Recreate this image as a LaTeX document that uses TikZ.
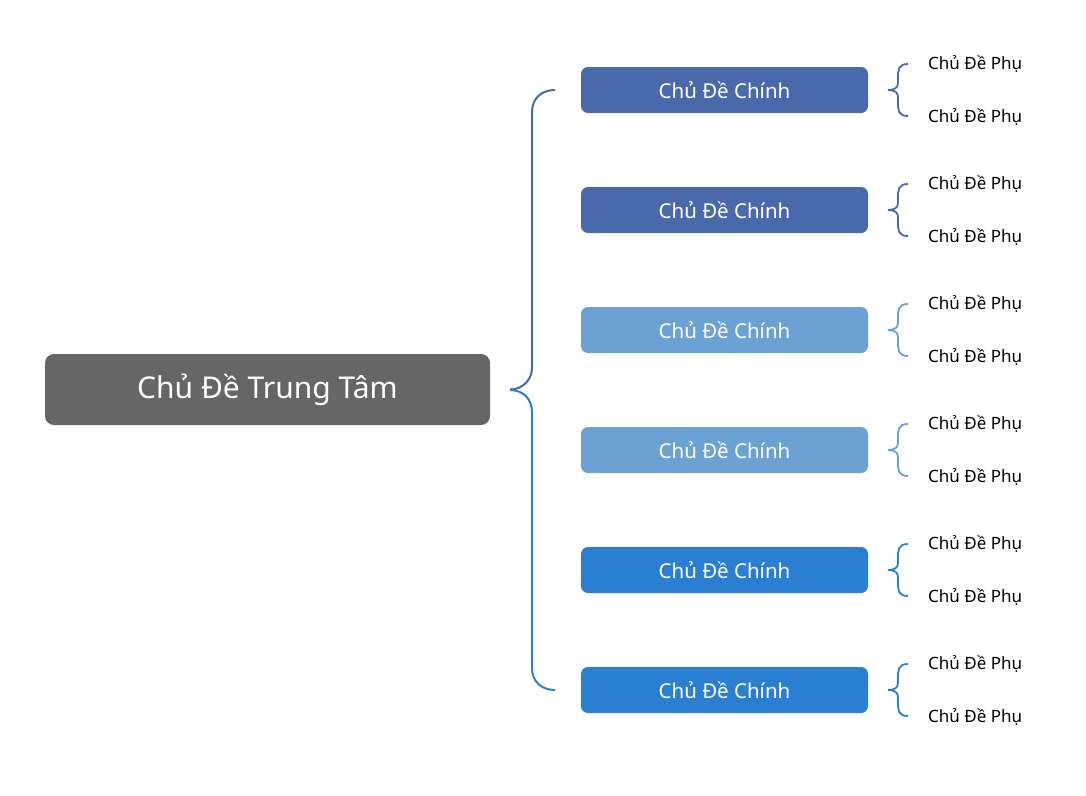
\documentclass[tikz,border=0pt]{standalone}
\usepackage{fontspec}
\setmainfont{Noto Sans}
\definecolor{cgray}{HTML}{666666}
\definecolor{cdark}{HTML}{4A69AA}
\definecolor{clight}{HTML}{6BA1D3}
\definecolor{cbright}{HTML}{2A7FD2}
\begin{document}
\begin{tikzpicture}[x=1pt,y=-1pt,
  central/.style={fill=cgray,rounded corners=9pt,minimum width=445pt,minimum height=71pt,text=white,font=\fontsize{30}{34}\selectfont,inner sep=0pt},
  mainbox/.style={fill=#1,rounded corners=7pt,minimum width=287pt,minimum height=46pt,text=white,font=\fontsize{20.5}{24}\selectfont,inner sep=0pt},
  subt/.style={anchor=west,font=\fontsize{17}{20}\selectfont,inner sep=0pt},
  br/.style={draw=#1,line width=2pt}]
\useasboundingbox (0,0) rectangle (1086,795);
\node[central] (c) at (267.5,389.5) {\raisebox{-2pt}{Chủ Đề Trung Tâm}};
\foreach \i/\col in {0/cdark,1/cdark,2/clight,3/clight,4/cbright,5/cbright}{
  \pgfmathsetmacro{\yy}{90+120*\i}
  \node[mainbox=\col] (m\i) at (724.5,\yy) {Chủ Đề Chính};
  \node[subt] (sa\i) at (928,\yy-26) {Chủ Đề Phụ};
  \node[subt] (sb\i) at (928,\yy+27) {Chủ Đề Phụ};
  \draw[br=\col,line width=1.8pt] (908,\yy-26) .. controls (898,\yy-26) and (898,\yy-20) .. (898,\yy-12) -- (898,\yy-7) .. controls (898,\yy-2) and (894,\yy) .. (888,\yy)
     .. controls (894,\yy) and (898,\yy+2) .. (898,\yy+7) -- (898,\yy+12) .. controls (898,\yy+20) and (898,\yy+26) .. (908,\yy+26);
}
\draw[br=cdark] (c.east) ++(20,0) .. controls +(12,0) and +(0,12) .. (532,368) -- (532,112) .. controls (532,98) and (542,90) .. (555,90);
\draw[br=cbright] (510,390) .. controls (522,390) and (532,398) .. (532,412) -- (532,668) .. controls (532,682) and (542,690) .. (555,690);
\end{tikzpicture}
\end{document}
